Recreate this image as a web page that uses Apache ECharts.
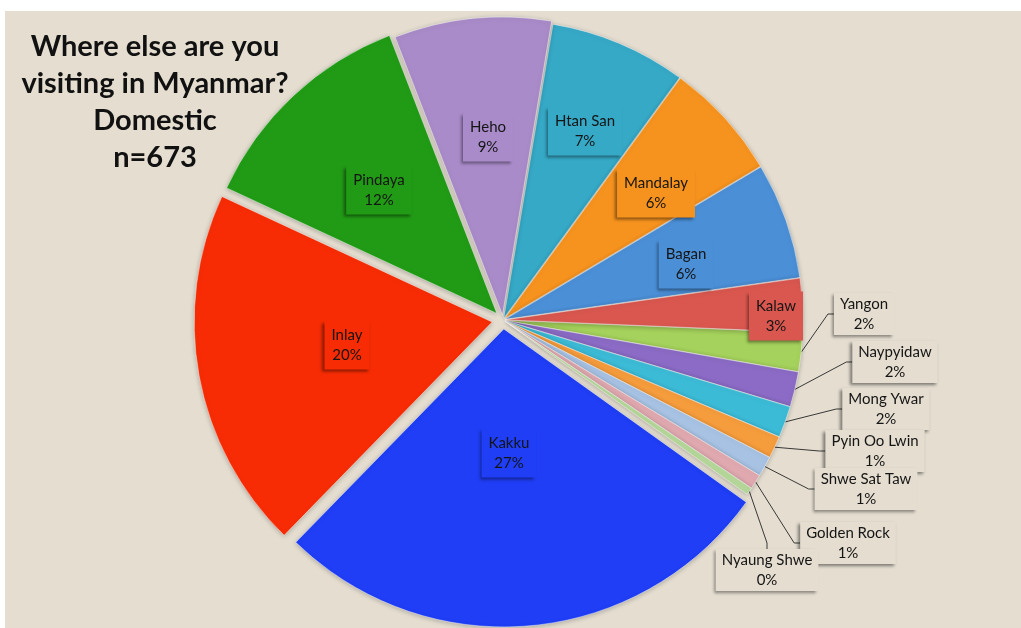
<!DOCTYPE html>
<html><head><meta charset="utf-8">
<script src="https://cdn.jsdelivr.net/npm/echarts@6/dist/echarts.min.js"></script>
<style>
html,body{margin:0;padding:0;background:#fff;}
#bg{position:absolute;left:5px;top:11px;width:1016px;height:617px;background:#e4ddd0;}
#chart{position:absolute;left:0;top:0;width:1021px;height:628px;}
</style></head><body>
<div id="bg"></div><div id="chart"></div>
<script>
// ---- data ----
const places = ['Htan San','Mandalay','Bagan','Kalaw','Yangon','Naypyidaw','Mong Ywar','Pyin Oo Lwin','Shwe Sat Taw','Golden Rock','Nyaung Shwe','Kakku','Inlay','Pindaya','Heho'];
const shares = [7.4, 6.4, 6.3, 2.9, 2.1, 1.9, 1.7, 1.2, 1.1, 0.8, 0.4, 27.4, 19.6, 12.2, 8.5];
const titleLines = ['Where else are you', 'visiting in Myanmar?', 'Domestic', 'n=673'];

// ---- styling ----
const colors = ['#36a9c7','#f6931f','#4b8fd6','#d9574f','#a5d25c','#8b6bc5','#3cbbd6','#f59c3c','#a7c2e3','#e0a9b0','#b6d89a','#1f3ef5','#f72c04','#219b15','#a98bc9'];
const explode = [2,2,2,2,2,2,2,2,2,2,2,9,11,9,5];
const outside = [false,false,false,false,true,true,true,true,true,true,true,false,false,false,false];
const labelAt = {
  'Heho':[488,137], 'Htan San':[585,131], 'Mandalay':[656,193], 'Bagan':[686,264], 'Kalaw':[776,316],
  'Pindaya':[379,190], 'Inlay':[347,345], 'Kakku':[509,453],
  'Yangon':[864,314], 'Naypyidaw':[895,362], 'Mong Ywar':[886,409], 'Pyin Oo Lwin':[875,451],
  'Shwe Sat Taw':[866,489], 'Golden Rock':[848,543], 'Nyaung Shwe':[767,570]
};
const BG = '#e4ddd0';
const CX = 503, CY = 320, R = 298, START = 80.5;

const total = shares.reduce((a, b) => a + b, 0);
let cum = 0;
const series = places.map((p, i) => {
  const mid = (START - (cum + shares[i] / 2) / total * 360) * Math.PI / 180;
  cum += shares[i];
  const cx = CX + Math.cos(mid) * explode[i];
  const cy = CY - Math.sin(mid) * explode[i];
  return {
    type: 'pie',
    z: outside[i] ? 2 : 3,
    center: [cx, cy],
    radius: R,
    startAngle: START,
    clockwise: true,
    avoidLabelOverlap: false,
    silent: true,
    animation: false,
    emphasis: { disabled: true },
    itemStyle: { borderColor: 'rgba(255,255,255,0.45)', borderWidth: 1, shadowBlur: 5, shadowColor: 'rgba(0,0,0,0.25)', shadowOffsetY: 1 },
    labelLayout: function (params) {
      const pos = labelAt[places[params.dataIndex]];
      return { x: pos[0], y: pos[1], align: 'center', verticalAlign: 'middle' };
    },
    data: places.map((name, j) => {
      if (j !== i) {
        return { name: name, value: shares[j],
          itemStyle: { color: 'rgba(0,0,0,0)', borderWidth: 0, shadowBlur: 0, shadowColor: 'rgba(0,0,0,0)' },
          label: { show: false }, labelLine: { show: false } };
      }
      return {
        name: name, value: shares[j],
        itemStyle: { color: colors[j] },
        label: {
          show: true,
          position: outside[j] ? 'outside' : 'inside',
          formatter: (pp) => pp.name + '\n' + Math.round(pp.value) + '%',
          fontFamily: 'Lato', fontSize: 15, color: '#151515', lineHeight: 20,
          align: 'center',
          padding: outside[j] ? [2, 6, 0, 6] : [5, 7, 4, 7],
          backgroundColor: outside[j] ? BG : colors[j],
          shadowColor: 'rgba(0,0,0,0.45)', shadowBlur: 3, shadowOffsetX: -2, shadowOffsetY: 2
        },
        labelLine: { show: outside[j], length: 10, length2: 6, lineStyle: { color: '#383838', width: 1 } }
      };
    })
  };
});

const chart = echarts.init(document.getElementById('chart'), null, { renderer: 'canvas' });
chart.setOption({
  backgroundColor: 'transparent',
  title: {
    text: titleLines.join('\n'),
    left: 155, top: 28, padding: 0,
    textAlign: 'center',
    textStyle: { fontFamily: 'Lato', fontWeight: 'bold', fontSize: 29, lineHeight: 37, color: '#111' }
  },
  series: series
});
</script>
</body></html>
